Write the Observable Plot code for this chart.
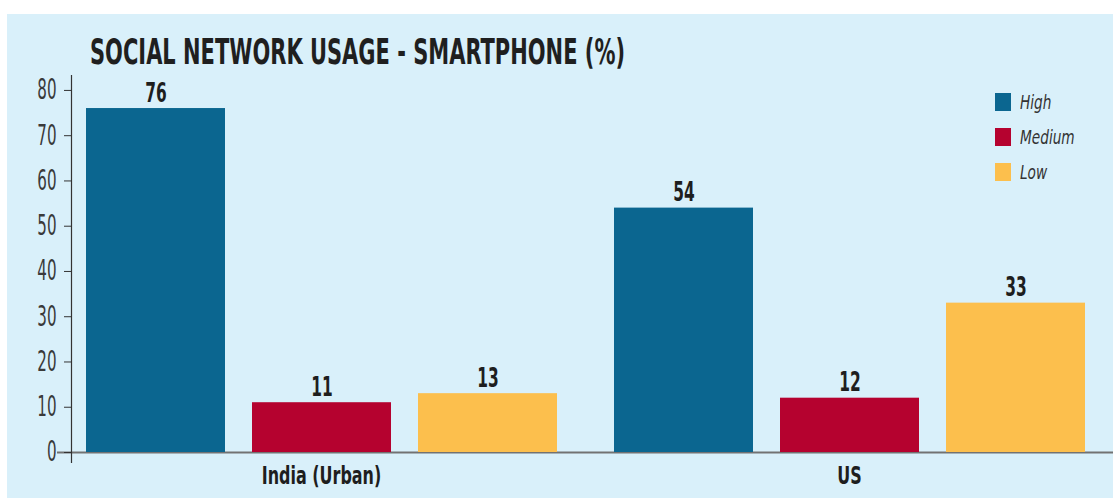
<!DOCTYPE html>
<html>
<head>
<meta charset="utf-8">
<script src="https://cdn.jsdelivr.net/npm/d3@7"></script>
<script src="https://cdn.jsdelivr.net/npm/@observablehq/plot@0.6"></script>
<style>
  html, body { margin: 0; padding: 0; background: #ffffff; width: 1113px; height: 498px; overflow: hidden; }
  #panel { position: absolute; left: 7px; top: 14px; width: 1106px; height: 484px; background: #d9f0fa; }
  #title { position: absolute; left: 90px; top: 35px; white-space: nowrap; transform-origin: 0 0;
           font-family: "DejaVu Sans Condensed", "DejaVu Sans", sans-serif;
           font-stretch: condensed; font-weight: bold; font-size: 35px; color: #1f1f1f; line-height: 1; }
  #chart { position: absolute; left: 0; top: 68px; }
  #legend { position: absolute; left: 995px; top: 84px;
            font-family: "DejaVu Sans Condensed", sans-serif; font-stretch: condensed;
            font-style: italic; font-size: 19px; color: #333; }
  .lg { display: flex; align-items: center; height: 35px; }
  .lg span { display: inline-block; transform: scaleX(0.8); transform-origin: 0 50%; }
  .sw { width: 16px; height: 18px; margin-right: 9px; }
</style>
</head>
<body>
<div id="panel"></div>
<div id="title"><span id="titletext">SOCIAL NETWORK USAGE - SMARTPHONE (%)</span></div>
<div id="chart"></div>
<div id="legend"></div>
<script>
// ---- data ----
const regions = ["India (Urban)", "US"];
const levels = ["High", "Medium", "Low"];
const indiaValues = [76, 11, 13];
const usValues = [54, 12, 33];
const colors = ["#0b6690", "#b5022f", "#fcbf4d"];
const yTicks = [0, 10, 20, 30, 40, 50, 60, 70, 80];

const data = [];
levels.forEach((lv, i) => data.push({region: regions[0], level: lv, value: indiaValues[i]}));
levels.forEach((lv, i) => data.push({region: regions[1], level: lv, value: usValues[i]}));

const condensed = '"DejaVu Sans Condensed", "DejaVu Sans", sans-serif';

const chart = Plot.plot({
  width: 1113,
  height: 430,
  marginTop: 7,
  marginBottom: 46,
  marginLeft: 56,
  marginRight: 0,
  style: {background: "transparent", fontFamily: condensed, overflow: "visible"},
  fx: {domain: regions, padding: 0, label: null},
  x: {domain: levels, paddingInner: 0.165, paddingOuter: 0.17, axis: null},
  y: {domain: [0, 83.3], label: null},
  color: {domain: levels, range: colors},
  marks: [
    Plot.ruleY([0], {stroke: "#727272", strokeWidth: 2}),
    Plot.barY(data, {fx: "region", x: "level", y: "value", fill: "level"}),
    Plot.text(data, {fx: "region", x: "level", y: "value", text: d => String(d.value),
      lineAnchor: "bottom", dy: -7, fontSize: 26, fontWeight: "bold", fill: "#1e1e1e"}),
    Plot.frame({anchor: "left", facetAnchor: "left", dx: 14, insetBottom: -10, stroke: "#333", strokeWidth: 1.2}),
    Plot.axisY({ticks: yTicks, tickFormat: d => String(d), tickSize: 7, tickPadding: 8, dx: 14,
      fontSize: 28, stroke: "#333", fill: "#3a3a3a", label: null}),
    Plot.axisFx({anchor: "bottom", tickSize: 0, tickPadding: 14, fontSize: 24, fontWeight: "bold",
      fill: "#1e1e1e", label: null})
  ]
});
document.getElementById("chart").appendChild(chart);

// condense text glyphs horizontally around their anchor point
function condense(selector, s, anchor) {
  chart.querySelectorAll(selector).forEach(t => {
    const b = t.getBBox();
    const ax = anchor === "end" ? b.x + b.width : b.x + b.width / 2;
    const tr = t.getAttribute("transform") || "";
    t.setAttribute("transform", `${tr} translate(${ax},0) scale(${s},1) translate(${-ax},0)`);
  });
}
condense('g[aria-label="y-axis tick label"] text', 0.6, "end");
condense('g[aria-label="text"] text', 0.66, "middle");
condense('g[aria-label="fx-axis tick label"] text', 0.74, "middle");

// legend
const lg = document.getElementById("legend");
levels.forEach((lv, i) => {
  const row = document.createElement("div");
  row.className = "lg";
  row.innerHTML = `<div class="sw" style="background:${colors[i]}"></div><span>${lv}</span>`;
  lg.appendChild(row);
});

// fit title width
const tt = document.getElementById("titletext");
const w = tt.getBoundingClientRect().width;
document.getElementById("title").style.transform = `scaleX(${535 / w})`;
</script>
</body>
</html>
